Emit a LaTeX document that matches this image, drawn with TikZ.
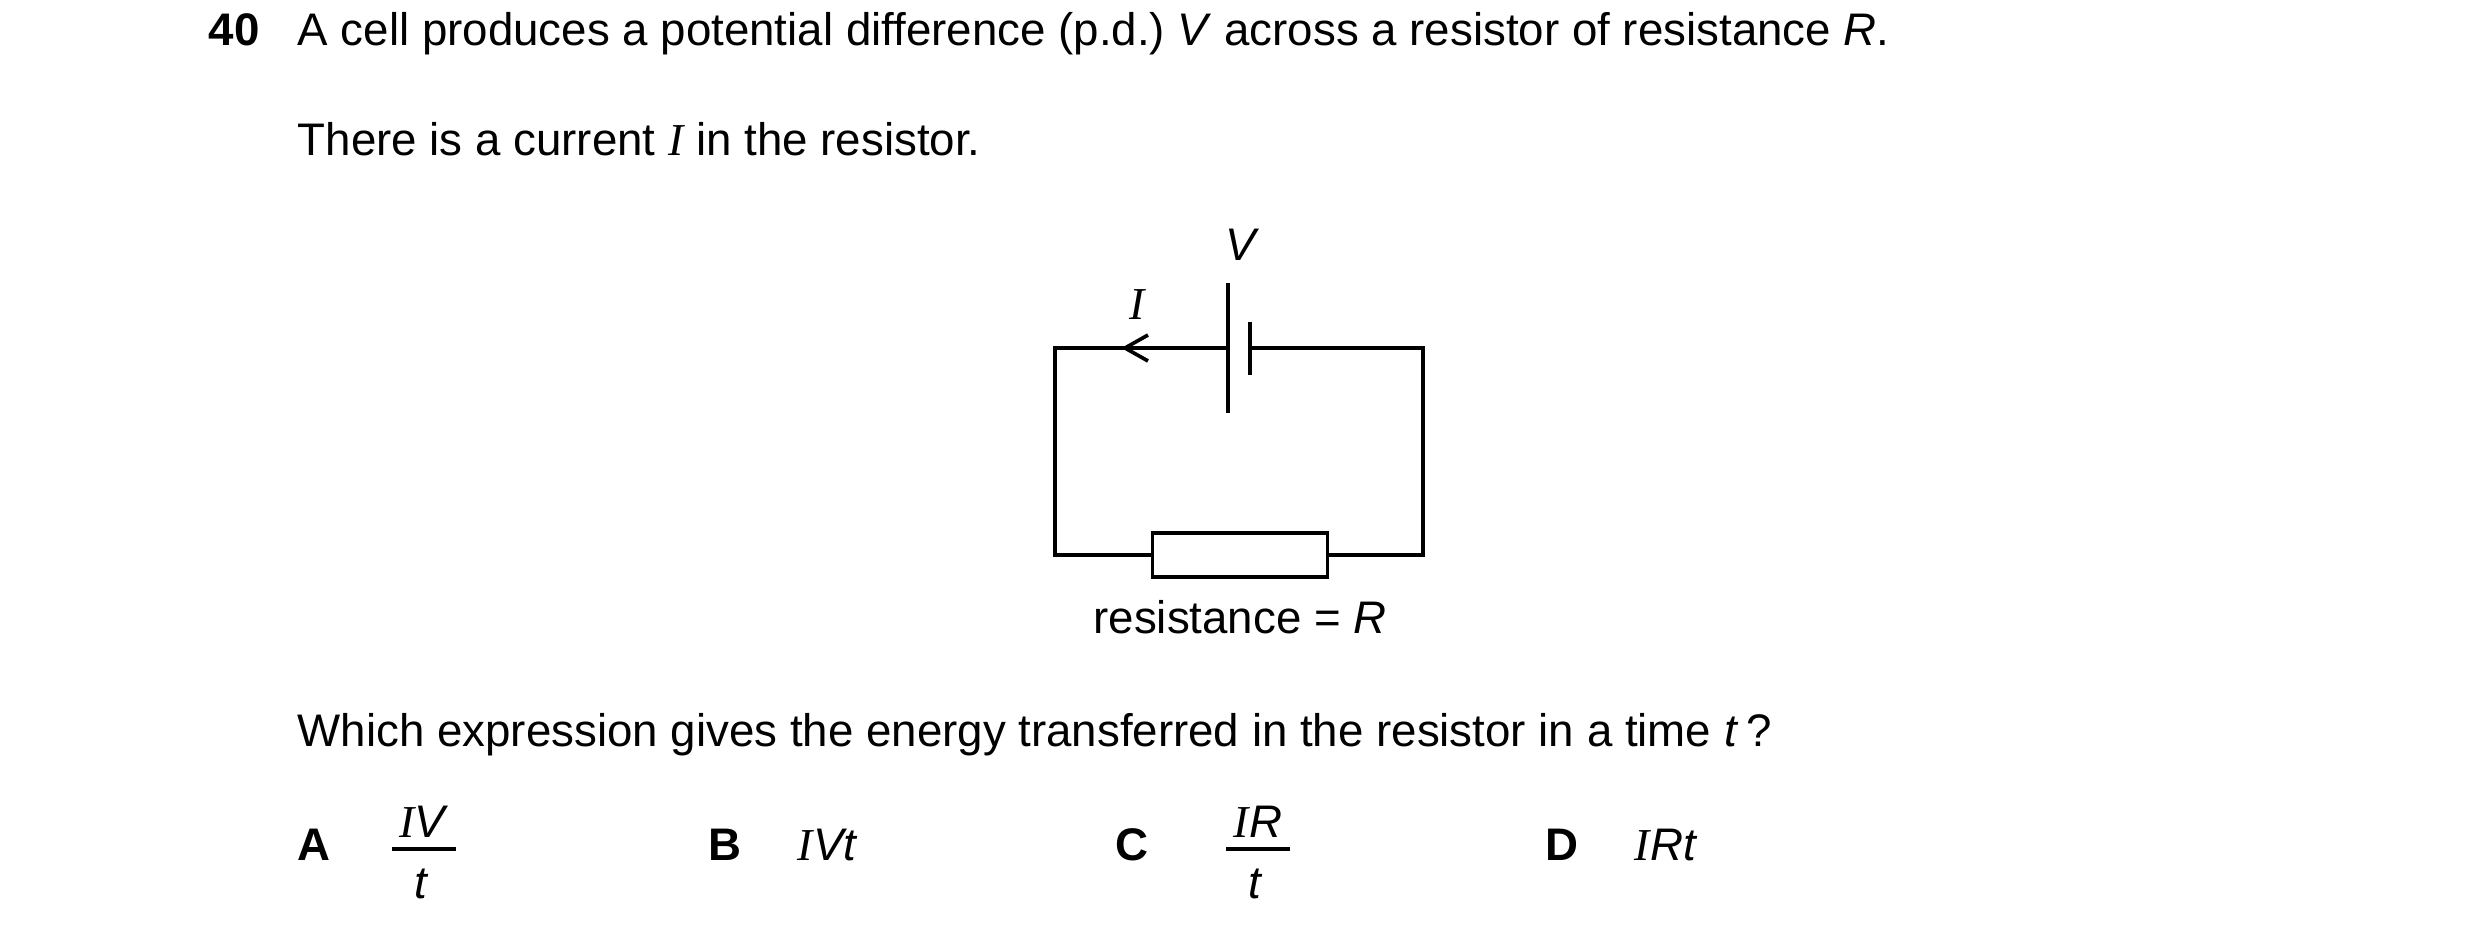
\documentclass[tikz,border=0pt]{standalone}
\usepackage{fontspec}
\setmainfont{Liberation Sans}
\newfontfamily\serifit{Liberation Serif}[ItalicFont=* Italic]
\begin{document}
\begin{tikzpicture}[x=0.3pt,y=-0.3pt,line width=1.1pt,
  txt/.style={anchor=base west,inner sep=0pt,font=\fontsize{13.7}{16}\selectfont},
  lbl/.style={inner sep=0pt,font=\fontsize{13.7}{16}\selectfont}]
\useasboundingbox (0,0) rectangle (2480,939);
% question text
\node [txt] (num) at (207,45) {\textbf{40}};
\node [txt] (l1) at (296,45) {A cell produces a potential difference (p.d.)\ \textit{V} across a resistor of resistance \textit{R}.};
\node [txt] (l2) at (296,155) {There is a current {\serifit\itshape I} in the resistor.};
\node [txt] (q) at (296,746) {Which expression gives the energy transferred in the resistor in a time \textit{t}\,?};
% circuit
\coordinate (tl) at (1055,348);
\coordinate (tr) at (1423,348);
\coordinate (bl) at (1055,555);
\coordinate (br) at (1423,555);
\coordinate (pl) at (1228,348);
\coordinate (pr) at (1250,348);
\node [draw, minimum width=52.5pt, minimum height=13.2pt, inner sep=0pt] (res) at (1240,555) {};
\draw (pl) -- (tl) -- (bl) -- (res.west);
\draw (res.east) -- (br) -- (tr) -- (pr);
\draw (1228,283) -- (1228,413);
\draw (1250,322) -- (1250,375);
\draw (1148,335) -- (1125,348) -- (1148,361);
\node [lbl] (I) at (1137,305) {\serifit\itshape I};
\node [lbl] (V) at (1242,245) {\textit{V}};
\node [lbl, below=6pt] (rlab) at (res.south) {resistance = \textit{R}};
% options
\node [txt] (A) at (296,860) {\textbf{A}};
\node [lbl] (An) at (424,822) {{\serifit\itshape I}\textit{V}};
\draw (392,849) -- (456,849);
\node [lbl] (Ad) at (422,884) {\textit{t}};
\node [txt] (B) at (707,860) {\textbf{B}};
\node [txt] (Bx) at (796,860) {{\serifit\itshape I}\textit{Vt}};
\node [txt] (C) at (1114,860) {\textbf{C}};
\node [lbl] (Cn) at (1258,822) {{\serifit\itshape I}\textit{R}};
\draw (1226,849) -- (1290,849);
\node [lbl] (Cd) at (1256,884) {\textit{t}};
\node [txt] (D) at (1544,860) {\textbf{D}};
\node [txt] (Dx) at (1633,860) {{\serifit\itshape I}\textit{Rt}};
\end{tikzpicture}
\end{document}
